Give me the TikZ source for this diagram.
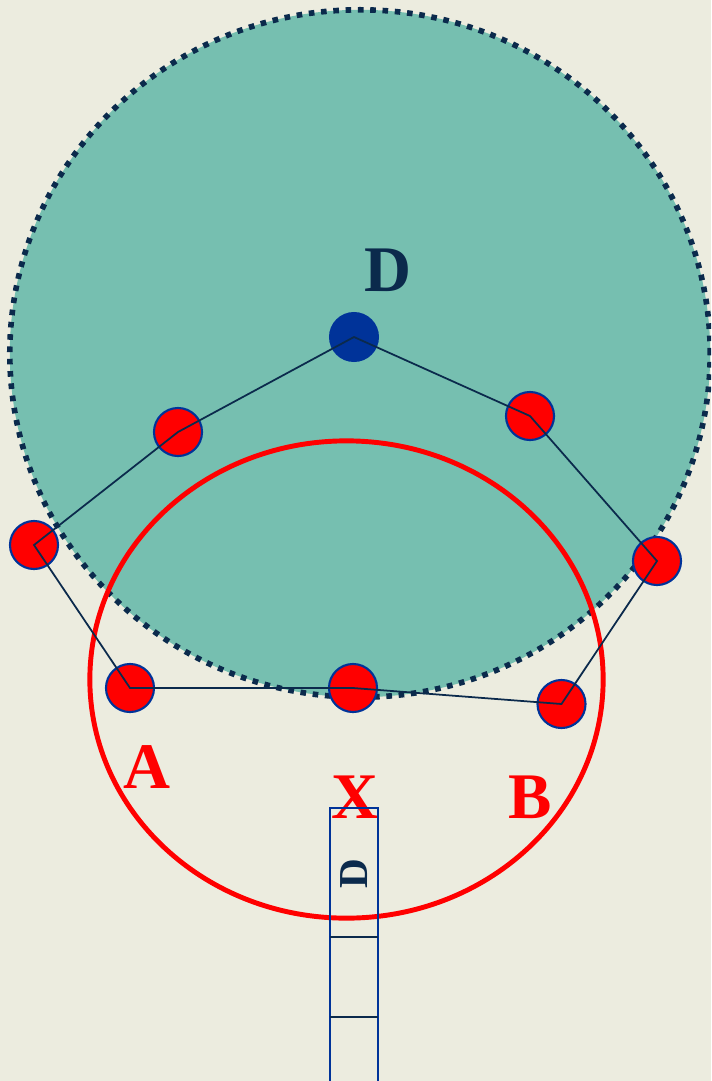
\documentclass[tikz,border=0pt]{standalone}
\usepackage{fontspec}
\setmainfont{Liberation Serif}
\usetikzlibrary{shapes.geometric,positioning}
\definecolor{paperbg}{HTML}{ECECDF}
\definecolor{zoneteal}{HTML}{76BFB0}
\definecolor{inknavy}{HTML}{0B2A4C}
\definecolor{nodeblue}{HTML}{003399}
\definecolor{markred}{HTML}{FF0000}

\begin{document}
\begin{tikzpicture}[x=0.01cm,y=-0.01cm,
    site/.style={circle, fill=markred, draw=nodeblue, line width=0.6pt, minimum size=0.48cm, inner sep=0pt},
    link/.style={inknavy, line width=0.5pt},
    biglabel/.style={font=\fontsize{18.5}{20}\selectfont\bfseries, inner sep=0pt},
    cell/.style={rectangle, draw=nodeblue, line width=0.6pt, minimum width=0.48cm, inner sep=0pt, outer sep=0pt}]
  % Paper
  \fill[paperbg] (0,0) rectangle (711,1081);
  \useasboundingbox (0,0) rectangle (711,1081);
  \clip (0,0) rectangle (711,1081);
  % Reach of D
  \node[ellipse, fill=zoneteal, draw=inknavy, line width=1.6pt, dash pattern=on 1.6pt off 1.9pt,
        minimum width=7.0cm, minimum height=6.87cm, inner sep=0pt] (zone) at (360,353.5) {};
  % Circle through A, X, B
  \node[ellipse, draw=markred, line width=1.4pt, minimum width=5.13cm, minimum height=4.77cm,
        inner sep=0pt] (lens) at (346.5,679.5) {};
  % Sites
  \node[site, fill=nodeblue, draw=none, minimum size=0.5cm] (D) at (354,337) {};
  \node[site] (p1) at (178,432) {};
  \node[site] (p2) at (530,416) {};
  \node[site] (p3) at (34,545) {};
  \node[site] (p4) at (657,561) {};
  \node[site] (A) at (130,688) {};
  \node[site] (X) at (353,688) {};
  \node[site] (B) at (561.5,704) {};
  % Tour
  \draw[link] (D.center) -- (p1.center) -- (p3.center) -- (A.center) -- (X.center)
    -- (B.center) -- (p4.center) -- (p2.center) -- cycle;
  % Labels
  \node[biglabel, text=inknavy] (Dlab) at (388,270) {D};
  \node[biglabel, text=markred] (Alab) at (147,767) {A};
  \node[biglabel, text=markred] (Xlab) at (355,797) {X};
  \node[biglabel, text=markred] (Blab) at (530,797) {B};
  % Stack
  \node[cell, minimum height=1.29cm] (c1) at (354,872.5) {};
  \node[cell, minimum height=0.8cm, below=0pt of c1] (c2) {};
  \node[cell, minimum height=0.8cm, below=0pt of c2] (c3) {};
  \draw[inknavy, line width=0.6pt] (c1.south west) -- (c1.south east);
  \draw[inknavy, line width=0.6pt] (c2.south west) -- (c2.south east);
  \node[rotate=90, text=inknavy, font=\fontsize{11.7}{13}\selectfont\bfseries, inner sep=0pt] (Dcell) at ([yshift=-0.01cm]c1.center) {D};
\end{tikzpicture}
\end{document}
